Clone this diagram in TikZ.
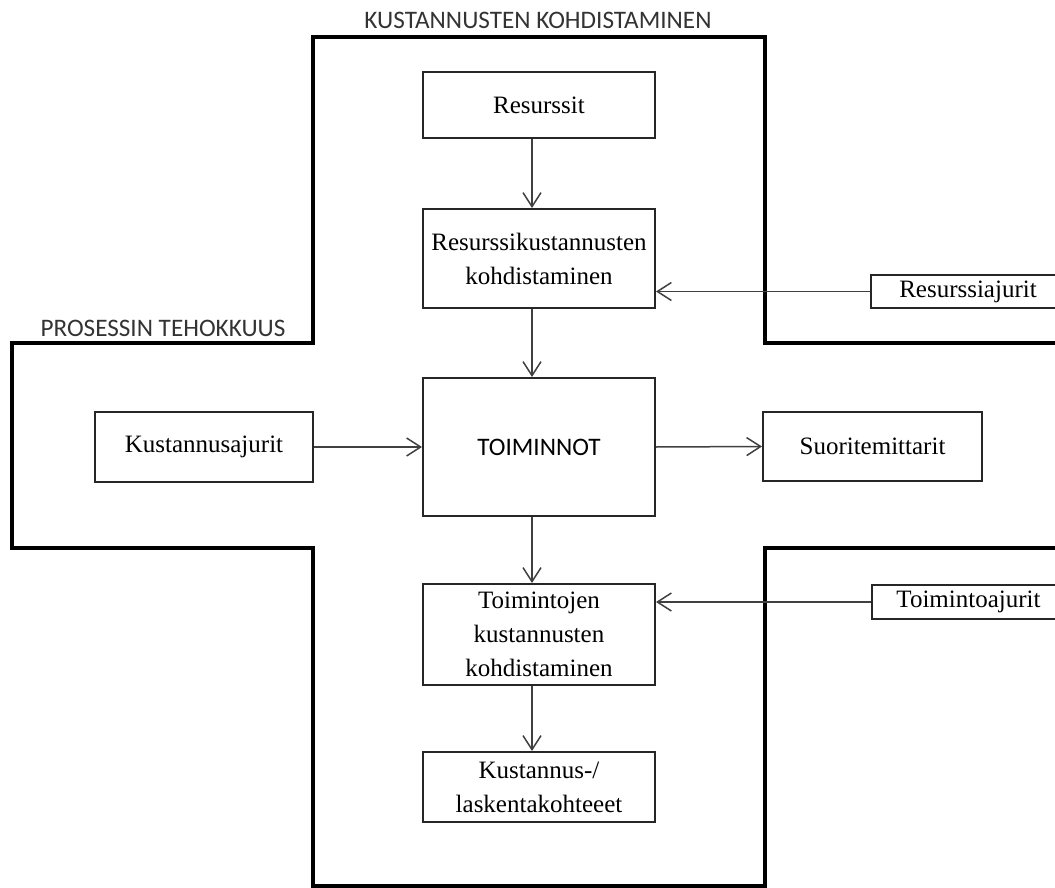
\documentclass[tikz,border=0pt]{standalone}
\usepackage{fontspec}
\setmainfont{Liberation Serif}
\newfontfamily\capsfont{Carlito}
\usepackage{tikz}
\usetikzlibrary{positioning,arrows.meta,calc}

\begin{document}
\begin{tikzpicture}[
  x=0.5pt,y=-0.5pt,
  font=\fontsize{12.5}{17}\selectfont,
  box/.style={draw=black!85,line width=1pt,align=center,inner sep=2pt},
  arr/.style={-{Straight Barb[length=7pt,width=9pt]},line width=0.75pt,draw=black!75},
  outline/.style={line width=1.6pt,draw=black},
  title/.style={font=\capsfont\fontsize{12.6}{15}\selectfont,text=black!80,inner sep=0pt},
]
  \useasboundingbox (0,0) rectangle (1055,888);
  \clip (0,0) rectangle (1055,888);
  % cross-shaped frame
  \draw[outline] (1070,343) -| (765,37) -| (313,343) -| (12,548) -| (313,886)
    -| (765,548) -- (1070,548);
  \node[title] (kohd) at (538,20) {KUSTANNUSTEN KOHDISTAMINEN};
  \node[title] (teho) at (163,328) {PROSESSIN TEHOKKUUS};

  % main column
  \node[box,minimum width=116pt,minimum height=33pt] (res) at (539,105) {Resurssit};
  \node[box,minimum width=116pt,minimum height=49.5pt] (reskoh) at (539,258.5)
    {Resurssikustannusten\\kohdistaminen};
  \node[box,minimum width=116pt,minimum height=69pt] (toim) at (539,447)
    {\capsfont\fontsize{12.6}{15}\selectfont TOIMINNOT};
  \node[box,minimum width=116pt,minimum height=50.5pt] (toimkoh) at (539,634.5)
    {Toimintojen\\kustannusten\\kohdistaminen};
  \node[box,minimum width=116pt,minimum height=35pt] (kohde) at (539,787)
    {Kustannus-/\\laskentakohteeet};

  % side boxes
  \node[box,minimum width=109pt,minimum height=35pt] (kaj) at (204,447) {Kustannusajurit};
  \node[box,minimum width=109.5pt,minimum height=34.5pt] (suor) at (872.5,446.5) {Suoritemittarit};
  \node[box,minimum width=97pt,minimum height=16.5pt] (resaj) at (968,291.5) {Resurssiajurit};
  \node[box,minimum width=96.5pt,minimum height=17pt] (toimaj) at (968.5,602) {Toimintoajurit};

  % connectors
  \draw[arr] ([xshift=-3.5pt]res.south) -- ([xshift=-3.5pt]reskoh.north);
  \draw[arr] ([xshift=-3.5pt]reskoh.south) -- ([xshift=-3.5pt]toim.north);
  \draw[arr] ([xshift=-3.5pt]toim.south) -- ([xshift=-3.5pt]toimkoh.north);
  \draw[arr] ([xshift=-3.5pt]toimkoh.south) -- ([xshift=-3.5pt]kohde.north);
  \draw[arr] (kaj.east) -- (toim.west);
  \draw[arr] (toim.east) -- (suor.west);
  \draw[arr] (resaj.west) -- (resaj.west -| reskoh.east);
  \draw[arr] (toimaj.west) -- (toimaj.west -| toimkoh.east);
\end{tikzpicture}
\end{document}
